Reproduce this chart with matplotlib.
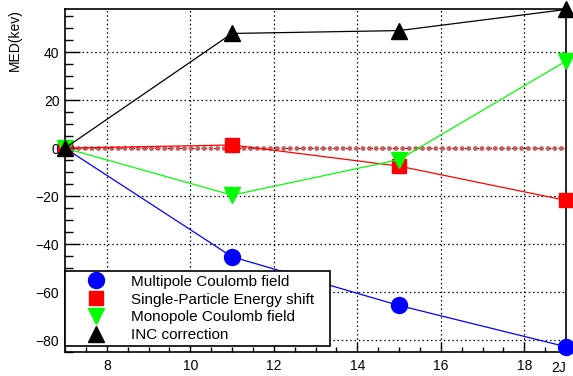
import numpy as np
import matplotlib
matplotlib.use("Agg")
import matplotlib.pyplot as plt
from matplotlib.ticker import MultipleLocator

plt.rcParams['font.family'] = ['Liberation Sans', 'DejaVu Sans']

# data
two_j = [7, 11, 15, 19]
multipole = [0.0, -45.3, -65.6, -82.8]
single_particle = [0.0, 1.3, -7.5, -21.8]
monopole = [0.0, -19.6, -4.8, 36.3]
inc_corr = [0.0, 47.8, 49.0, 57.8]
zero_x = [7, 19]
zero_y = [0, 0]

fig = plt.figure(figsize=(5.73, 3.76), dpi=100)
ax = fig.add_axes([65 / 573, 24 / 376, 501 / 573, 343 / 376])

ax.set_xlim(7, 19)
ax.set_ylim(-85, 58)

# grid (dotted, like ROOT)
ax.grid(True, which='major', color='black', linestyle=(0, (1.2, 2.2)), linewidth=0.9)
ax.set_axisbelow(True)

# zero reference line
ax.plot(zero_x, zero_y, color='#c85a5a', linestyle=(0, (0.01, 1.35)), linewidth=3.5,
        dash_capstyle='round', zorder=2)

series = [
    (multipole, 'blue', 'o', 11.5, 'Multipole Coulomb field'),
    (single_particle, 'red', 's', 10, 'Single-Particle Energy shift'),
    (monopole, '#00ff00', 'v', 11.5, 'Monopole Coulomb field'),
    (inc_corr, 'black', '^', 11.5, 'INC correction'),
]
for vals, col, mk, ms, lab in series:
    ax.plot(two_j, vals, color=col, linewidth=0.9, marker=mk, markersize=ms,
            markerfacecolor=col, markeredgecolor=col, label=lab, zorder=6, clip_on=False)

for sp in ax.spines.values():
    sp.set_linewidth(1.2)
    sp.set_zorder(5)

ax.xaxis.set_major_locator(MultipleLocator(2))
ax.xaxis.set_minor_locator(MultipleLocator(0.5))
ax.yaxis.set_major_locator(MultipleLocator(20))
ax.yaxis.set_minor_locator(MultipleLocator(5))
ax.tick_params(which='both', direction='in', top=False, right=False, labelsize=10)
ax.tick_params(axis='x', which='major', length=7.5, width=1.0, pad=5)
ax.tick_params(axis='x', which='minor', length=3.8, width=1.0)
ax.tick_params(axis='y', which='major', length=11, width=1.0, pad=4)
ax.tick_params(axis='y', which='minor', length=5.5, width=1.0)

ax.set_ylabel('MED(kev)', fontsize=10, loc='top', labelpad=10)
fig.text(566 / 573, 1 - 368 / 376, '2J', fontsize=10, ha='right', va='center')

leg = ax.legend(loc='lower left', bbox_to_anchor=(0.0, 6 / 343, 265 / 501, 76 / 343),
                mode='expand', fontsize=11,
                frameon=True, fancybox=False, framealpha=1, edgecolor='black',
                borderpad=0.25, labelspacing=0.25, handlelength=3.6, handletextpad=0.45,
                borderaxespad=0.0)
leg.get_frame().set_linewidth(1.2)
leg.set_zorder(7)
for line in leg.get_lines():
    line.set_linestyle('none')

fig.savefig('out.png', dpi=100)
